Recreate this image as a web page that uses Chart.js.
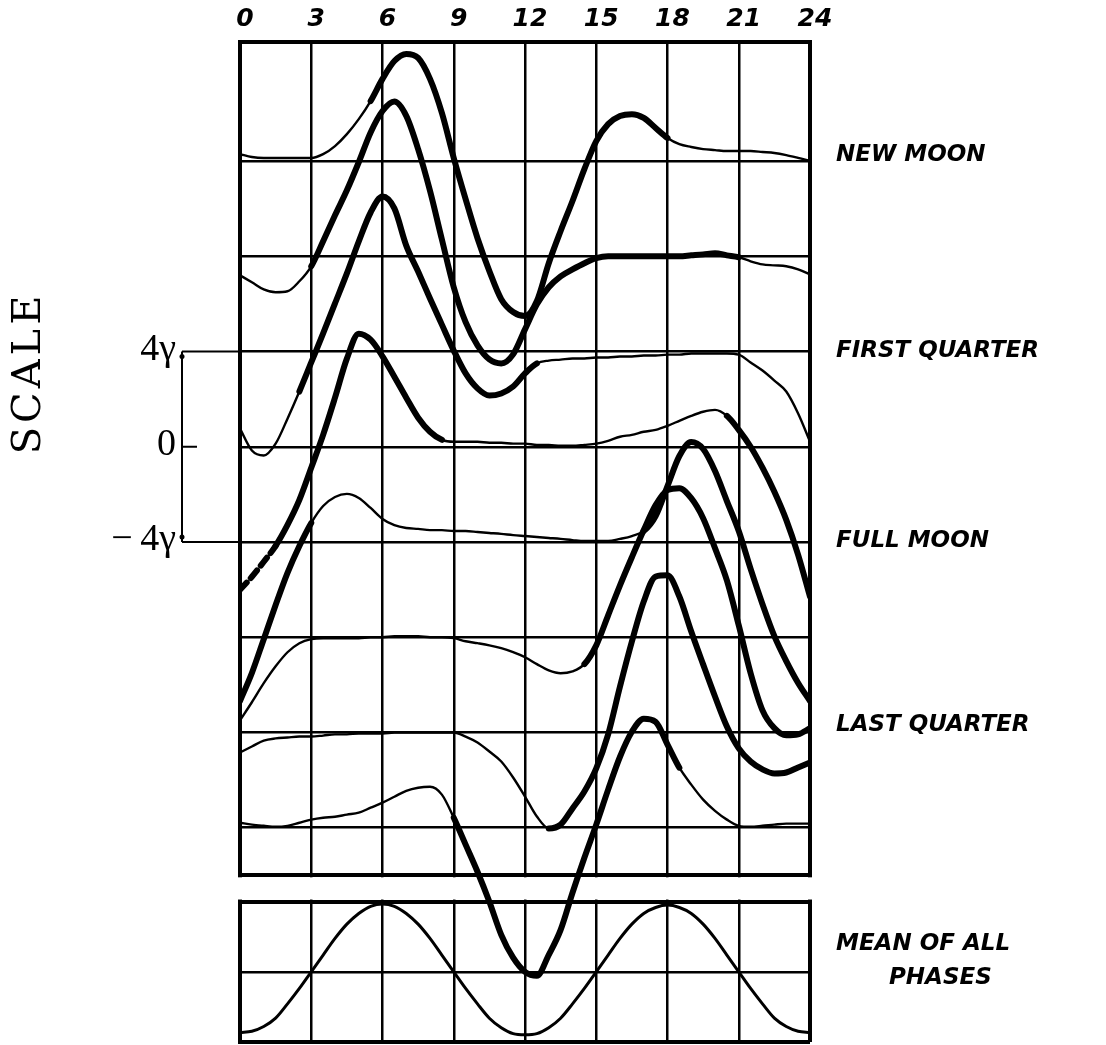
<!DOCTYPE html>
<html>
<head>
<meta charset="utf-8">
<title>Lunar daily variation at the four phases</title>
<script src="https://cdn.jsdelivr.net/npm/chart.js@4.4.1/dist/chart.umd.min.js"></script>
<style>
  body { margin: 0; background: #fff; }
</style>
</head>
<body>
<canvas id="moonChart" width="1106" height="1045"></canvas>
<script>
// lunar daily variation (gamma) against solar hour, one curve per lunar phase

"use strict";

// solar hour, every half hour
const hours = [0, 0.5, 1, 1.5, 2, 2.5, 3, 3.5, 4, 4.5, 5, 5.5, 6, 6.5, 7, 7.5, 8, 8.5,
  9, 9.5, 10, 10.5, 11, 11.5, 12, 12.5, 13, 13.5, 14, 14.5, 15, 15.5, 16, 16.5,
  17, 17.5, 18, 18.5, 19, 19.5, 20, 20.5, 21, 21.5, 22, 22.5, 23, 23.5, 24];

const hourTicks = [0, 3, 6, 9, 12, 15, 18, 21, 24];

// departures in gamma from each curve's own base line
const newMoon = [0.29, 0.17, 0.13, 0.13, 0.13, 0.13, 0.13, 0.29, 0.63, 1.13, 1.76, 2.52,
  3.45, 4.2, 4.5, 4.33, 3.45, 2.02, 0.13, -1.6, -3.24, -4.62, -5.8, -6.34, -6.51, -5.88,
  -4.29, -2.94, -1.68, -0.34, 0.84, 1.55, 1.89, 1.97, 1.81, 1.39, 0.97, 0.71, 0.59, 0.5,
  0.46, 0.42, 0.42, 0.42, 0.38, 0.34, 0.25, 0.13, 0];

const waxingCrescent = [-0.8, -1.09, -1.39, -1.51, -1.47, -1.05, -0.42, 0.63, 1.72, 2.77,
  3.95, 5.2, 6.1, 6.5, 5.9, 4.5, 2.75, 0.71, -1.3, -2.77, -3.74, -4.33, -4.5, -4.12,
  -3.07, -2.02, -1.3, -0.84, -0.55, -0.29, -0.08, 0, 0, 0, 0, 0, 0, 0, 0.04, 0.08, 0.13,
  0.04, -0.04, -0.21, -0.34, -0.38, -0.42, -0.55, -0.76];

const firstQuarter = [-3.24, -4.16, -4.37, -3.87, -2.82, -1.68, -0.46, 0.76, 2.02, 3.28,
  4.62, 5.84, 6.51, 6.01, 4.45, 3.36, 2.23, 1.13, 0.04, -0.92, -1.55, -1.85, -1.76, -1.47,
  -0.92, -0.5, -0.38, -0.34, -0.29, -0.29, -0.25, -0.25, -0.21, -0.21, -0.17, -0.17, -0.13,
  -0.13, -0.08, -0.08, -0.08, -0.08, -0.13, -0.46, -0.8, -1.22, -1.68, -2.6, -3.78];

const waxingGibbous = [-6.01, -5.46, -4.83, -4.16, -3.28, -2.23, -0.88, 0.5, 2.06, 3.7,
  4.75, 4.5, 3.8, 2.94, 2.06, 1.22, 0.63, 0.29, 0.21, 0.21, 0.21, 0.17, 0.17, 0.13, 0.13,
  0.08, 0.08, 0.04, 0.04, 0.08, 0.13, 0.25, 0.42, 0.5, 0.63, 0.71, 0.88, 1.09, 1.3, 1.47,
  1.55, 1.3, 0.71, 0, -0.88, -1.89, -3.07, -4.54, -6.3];

const fullMoon = [-6.68, -5.5, -4.08, -2.65, -1.3, -0.17, 0.8, 1.51, 1.89, 2.02, 1.85, 1.43,
  0.97, 0.71, 0.59, 0.55, 0.5, 0.5, 0.46, 0.46, 0.42, 0.38, 0.34, 0.29, 0.25, 0.21, 0.17,
  0.13, 0.08, 0.04, 0.04, 0.04, 0.13, 0.25, 0.46, 1.09, 2.35, 3.61, 4.2, 3.91, 2.98, 1.72,
  0.46, -1.13, -2.61, -3.95, -5.0, -5.92, -6.68];

const waningGibbous = [-3.49, -2.73, -1.93, -1.22, -0.63, -0.25, -0.08, -0.04, -0.04, -0.04,
  -0.04, 0, 0, 0.04, 0.04, 0.04, 0, 0, -0.04, -0.17, -0.25, -0.34, -0.46, -0.63, -0.84,
  -1.13, -1.39, -1.51, -1.43, -1.13, -0.34, 0.92, 2.18, 3.36, 4.5, 5.55, 6.18, 6.26, 5.84,
  5.0, 3.74, 2.39, 0.5, -1.51, -3.07, -3.82, -4.12, -4.08, -3.82];

const lastQuarter = [-0.84, -0.59, -0.34, -0.25, -0.21, -0.17, -0.17, -0.13, -0.08, -0.08,
  -0.04, -0.04, -0.04, 0, 0, 0, 0, 0, 0, -0.17, -0.42, -0.8, -1.22, -1.89, -2.69, -3.53,
  -4.03, -3.87, -3.19, -2.48, -1.51, -0.08, 1.93, 3.82, 5.5, 6.55, 6.6, 5.71, 4.24, 2.86,
  1.51, 0.25, -0.67, -1.22, -1.55, -1.72, -1.68, -1.47, -1.26];

const waningCrescent = [0.21, 0.13, 0.08, 0.04, 0.08, 0.21, 0.34, 0.42, 0.46, 0.55, 0.63,
  0.84, 1.05, 1.3, 1.55, 1.68, 1.72, 1.39, 0.42, -0.71, -1.85, -3.11, -4.5, -5.46, -6.05,
  -6.22, -5.34, -4.29, -2.73, -1.26, 0.13, 1.6, 2.98, 4.03, 4.58, 4.45, 3.49, 2.52, 1.81,
  1.18, 0.71, 0.34, 0.08, 0.04, 0.08, 0.13, 0.17, 0.17, 0.17];

const meanAllPhases = [-2.55, -2.5, -2.3, -1.95, -1.35, -0.7, 0, 0.7, 1.4, 2.0, 2.45, 2.75,
  2.85, 2.75, 2.45, 2.0, 1.4, 0.7, 0, -0.7, -1.35, -1.95, -2.35, -2.6, -2.65, -2.6, -2.35,
  -1.95, -1.35, -0.7, 0, 0.7, 1.4, 2.0, 2.45, 2.7, 2.8, 2.7, 2.45, 2.0, 1.4, 0.7, 0, -0.7,
  -1.35, -1.95, -2.3, -2.5, -2.55];

// base line of each phase curve, in gamma (curves are stacked 4 gamma apart)
const phaseOffsets = [12, 8, 4, 0, -4, -8, -12, -16];
const meanOffset = -22.05;

// horizontal rulings of the two panels, in gamma
const gridLevels = [17, 12, 8, 4, 0, -4, -8, -12, -16, -18, -19.1, -22.05, -25];
const frameLevels = [17, -18, -19.1, -25];

const scaleValues = [4, 0, -4];
const scaleLabels = ['4\u03B3', '0', '\u2212\u20094\u03B3'];

const phaseLabels = ['NEW MOON', 'FIRST QUARTER', 'FULL MOON', 'LAST QUARTER'];
const meanLabel = ['MEAN OF ALL', 'PHASES'];

// ---- look ----
const THIN = 2.4, THICK = 6;
const labelAt = [12.25, 4, -3.95, -11.7];
const meanLabelAt = [-20.9, -22.3];

const curves = [
  { values: newMoon, thick: [[5.5, 18]] },
  { values: waxingCrescent, thick: [[3, 21]] },
  { values: firstQuarter, thick: [[2.5, 12.5]] },
  { values: waxingGibbous, thick: [[0, 8.5], [20.5, 24]], dashed: [0, 1.5] },
  { values: fullMoon, thick: [[0, 3], [17, 24]] },
  { values: waningGibbous, thick: [[14.5, 24]] },
  { values: lastQuarter, thick: [[13, 24]] },
  { values: waningCrescent, thick: [[9, 18.5]] }
];

let inRange = function (h, ranges) {
  return ranges.some(r => h >= r[0] && h < r[1]);
};

let makeSet = function (values, offset, thick, dashed) {
  return {
    data: hours.map((h, i) => ({ x: h, y: offset + values[i] })),
    borderColor: '#000',
    borderWidth: THIN,
    borderCapStyle: 'round',
    borderJoinStyle: 'round',
    pointRadius: 0,
    cubicInterpolationMode: 'monotone',
    segment: {
      borderWidth: ctx => inRange(ctx.p0.parsed.x, thick) ? THICK : THIN,
      borderDash: ctx => (dashed && inRange(ctx.p0.parsed.x, [dashed])) ? [10, 6] : []
    }
  };
};

let datasets = curves.map((c, k) => makeSet(c.values, phaseOffsets[k], c.thick, c.dashed));
let meanSet = makeSet(meanAllPhases, meanOffset, [], null);
meanSet.borderWidth = 3;
meanSet.segment = {};
datasets.push(meanSet);

// white gap between the panels, phase names, and the gamma scale bar
const decor = {
  id: 'decor',
  beforeDatasetsDraw(chart) {
    const { ctx, chartArea, scales } = chart;
    const y = scales.y;
    const top = y.getPixelForValue(-18) + 2;
    const bot = y.getPixelForValue(-19.1) - 2;
    ctx.save();
    ctx.fillStyle = '#fff';
    ctx.fillRect(chartArea.left - 6, top, chartArea.width + 12, bot - top);
    ctx.restore();
  },
  afterDraw(chart) {
    const { ctx, chartArea, scales } = chart;
    const y = scales.y;
    ctx.save();
    ctx.fillStyle = '#000';
    ctx.strokeStyle = '#000';

    // phase names
    ctx.font = 'italic bold 23px "DejaVu Sans"';
    ctx.textBaseline = 'middle';
    ctx.textAlign = 'left';
    const lx = chartArea.right + 26;
    phaseLabels.forEach((t, i) => ctx.fillText(t, lx, y.getPixelForValue(labelAt[i])));
    ctx.fillText(meanLabel[0], lx, y.getPixelForValue(meanLabelAt[0]));
    ctx.fillText(meanLabel[1], lx + 53, y.getPixelForValue(meanLabelAt[1]));

    // scale bar
    const bx = chartArea.left - 58;
    const yTop = y.getPixelForValue(scaleValues[0]);
    const yMid = y.getPixelForValue(scaleValues[1]);
    const yBot = y.getPixelForValue(scaleValues[2]);
    ctx.lineWidth = 2;
    ctx.beginPath();
    ctx.moveTo(bx, yTop); ctx.lineTo(bx, yBot);
    ctx.moveTo(bx, yTop); ctx.lineTo(chartArea.left, yTop);
    ctx.moveTo(bx, yBot); ctx.lineTo(chartArea.left, yBot);
    ctx.moveTo(bx, yMid); ctx.lineTo(bx + 15, yMid);
    ctx.stroke();
    [yTop, yBot].forEach(py => {
      ctx.beginPath(); ctx.arc(bx, py + (py === yTop ? 5 : -5), 2.5, 0, Math.PI * 2); ctx.fill();
    });

    ctx.font = '38px "Liberation Serif"';
    ctx.textAlign = 'right';
    scaleValues.forEach((v, i) => {
      ctx.fillText(scaleLabels[i], bx - 6, y.getPixelForValue(v) - 2);
    });

    // rotated SCALE caption
    ctx.translate(chartArea.left - 210, y.getPixelForValue(3.1));
    ctx.rotate(-Math.PI / 2);
    ctx.font = '40px "DejaVu Serif"';
    ctx.letterSpacing = '4px';
    ctx.textAlign = 'center';
    ctx.fillText('SCALE', 0, 0);
    ctx.restore();
  }
};

const ctx = document.getElementById('moonChart').getContext('2d');

let config = {
  type: 'line',
  data: { datasets },
  options: {
    responsive: false,
    animation: false,
    layout: { padding: { left: 240, right: 296, top: 0, bottom: 3 } },
    plugins: { legend: { display: false }, tooltip: { enabled: false } },
    scales: {
      x: {
        type: 'linear',
        position: 'top',
        min: 0,
        max: 24,
        afterFit: s => { s.height = 42; },
        afterBuildTicks: s => { s.ticks = hourTicks.map(v => ({ value: v })); },
        ticks: {
          color: '#000',
          padding: 8,
          labelOffset: 5,
          maxRotation: 0,
          font: { family: 'DejaVu Sans', size: 25, style: 'italic', weight: 'bold' }
        },
        grid: {
          color: '#000',
          drawTicks: false,
          lineWidth: c => (c.tick && (c.tick.value === 0 || c.tick.value === 24)) ? 4 : 2.5
        },
        border: { display: true, color: '#000', width: 4 }
      },
      y: {
        type: 'linear',
        min: -25,
        max: 17,
        afterFit: s => { s.width = 0; },
        afterBuildTicks: s => { s.ticks = gridLevels.map(v => ({ value: v })); },
        ticks: { display: false },
        grid: {
          color: '#000',
          drawTicks: false,
          lineWidth: c => (c.tick && frameLevels.includes(c.tick.value)) ? 4 : 2.5
        },
        border: { display: true, color: '#000', width: 4 }
      }
    }
  },
  plugins: [decor]
};

const moonChart = new Chart(ctx, config);
</script>
</body>
</html>
